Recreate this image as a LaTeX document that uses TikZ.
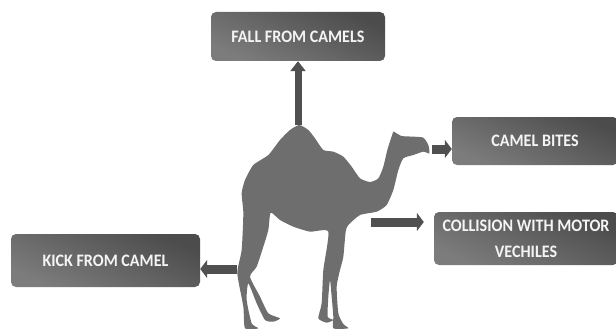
\documentclass[tikz,border=0pt]{standalone}
\usepackage{fontspec}
\setmainfont[FakeStretch=0.92]{Carlito}
\usetikzlibrary{arrows.meta}
\definecolor{camelgrey}{HTML}{6E6E6E}
\definecolor{boxdark}{HTML}{4C4C4C}
\definecolor{boxlight}{HTML}{7C7C7C}
\definecolor{arrowgrey}{HTML}{505050}
\definecolor{textwhite}{HTML}{F4F4F4}
\tikzset{
  hazard/.style={rounded corners=5pt, inner sep=0pt, text=textwhite, align=center,
    font=\bfseries\fontsize{17.5}{26}\selectfont,
    top color=boxdark, bottom color=boxlight, shading angle=-25},
  flow/.style={draw=arrowgrey, line width=9pt, -{Triangle[length=7pt,width=18pt]}},
  flowup/.style={draw=arrowgrey, line width=7pt, -{Triangle[length=10pt,width=15pt]}}
}
\begin{document}
\begin{tikzpicture}[x=1pt,y=-1pt]
\useasboundingbox (0,0) rectangle (616,329);
\clip (0,0) rectangle (616,329);
\begin{scope}[shift={(200,100)},x=0.33333pt,y=-0.33333pt]
\fill[camelgrey] plot[smooth cycle,tension=0.35] coordinates {
(298,75)(325,90)(345,115)(370,150)(400,155)(430,170)(455,200)(480,235)(510,246)(535,235)
(550,200)(562,150)(572,118)(580,95)(585,97)(605,108)(640,110)(670,113)(685,135)(688,160)
(670,155)(640,165)(610,175)(595,210)(580,270)(560,315)(530,335)(480,345)(445,375)(437,395)
(430,470)(420,510)(410,560)(415,640)(430,672)(445,685)(400,685)(400,650)(395,590)(390,540)
(385,590)(383,650)(400,660)(380,668)(355,655)(365,610)(370,510)(385,395)(330,395)(280,380)
(240,360)(212,338)(205,390)(190,440)(170,500)(150,530)(180,590)(205,640)(240,655)(220,665)
(195,660)(170,610)(145,550)(140,600)(155,670)(175,685)(135,685)(130,620)(112,520)(125,450)
(130,340)(125,280)(135,240)(160,195)(205,165)(240,120)(270,90)};
\end{scope}
\node[hazard,minimum width=174pt,minimum height=49pt] (fall) at (298,36.5) {FALL FROM CAMELS};
\node[hazard,minimum width=166pt,minimum height=48pt] (bites) at (535,141) {CAMEL BITES};
\node[hazard,minimum width=184pt,minimum height=53pt] (collision) at (526,238.5) {COLLISION WITH MOTOR\\VECHILES};
\node[hazard,minimum width=189pt,minimum height=53pt] (kick) at (105.5,260.5) {KICK FROM CAMEL};
\coordinate (hump) at (298,125);
\coordinate (mouth) at (432,149);
\coordinate (belly) at (371,222);
\coordinate (leg) at (237,269);
\draw[flowup] (hump) -- (fall.south);
\draw[flow] (mouth) -- (mouth -| bites.west);
\draw[flow,shorten >=10pt] (belly) -- (belly -| collision.west);
\draw[flow] (leg) -- (leg -| kick.east);
\end{tikzpicture}
\end{document}
